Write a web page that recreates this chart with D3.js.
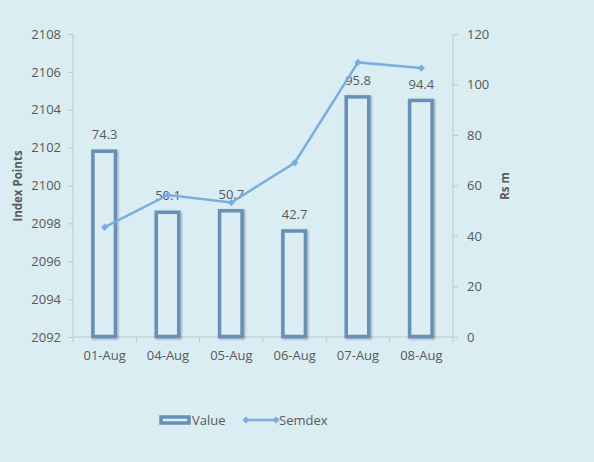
<!DOCTYPE html>
<meta charset="utf-8">
<style>
body { margin: 0; background: #daedf3; }
text { font-family: "Open Sans", sans-serif; fill: #595959; }
.axis path, .axis line { stroke: #bcc8cc; }
</style>
<svg width="594" height="462"></svg>
<script src="https://d3js.org/d3.v7.min.js"></script>
<script>
var svg = d3.select("svg"),
    width = +svg.attr("width"),
    height = +svg.attr("height");

// data
var dates = ["01-Aug", "04-Aug", "05-Aug", "06-Aug", "07-Aug", "08-Aug"];
var values = [74.3, 50.1, 50.7, 42.7, 95.8, 94.4];
var semdex = [2097.8, 2099.5, 2099.1, 2101.2, 2106.5, 2106.2];
var leftTicks = [2092, 2094, 2096, 2098, 2100, 2102, 2104, 2106, 2108];
var rightTicks = [0, 20, 40, 60, 80, 100, 120];

// plot area
var pLeft = 73, pRight = 453, pTop = 34, pBottom = 337;

svg.append("rect").attr("width", width).attr("height", height).attr("fill", "#daedf3");

var defs = svg.append("defs");
var f = defs.append("filter").attr("id", "sh").attr("x", "-30%").attr("y", "-10%").attr("width", "160%").attr("height", "120%");
f.append("feGaussianBlur").attr("in", "SourceAlpha").attr("stdDeviation", 1.2);
f.append("feOffset").attr("dx", 1).attr("dy", 1).attr("result", "b");
f.append("feComponentTransfer").append("feFuncA").attr("type", "linear").attr("slope", 0.35);
var m = f.append("feMerge");
m.append("feMergeNode");
m.append("feMergeNode").attr("in", "SourceGraphic");

var x = d3.scaleBand().domain(dates).range([pLeft, pRight]).padding(0);
var yL = d3.scaleLinear().domain([2092, 2108]).range([pBottom, pTop]);
var yR = d3.scaleLinear().domain([0, 120]).range([pBottom, pTop]);

// axes
var gl = svg.append("g").attr("class", "axis").attr("transform", "translate(" + pLeft + ",0)")
  .call(d3.axisLeft(yL).tickValues(leftTicks).tickSize(5).tickPadding(7).tickFormat(d3.format("d")));
var gr = svg.append("g").attr("class", "axis").attr("transform", "translate(" + pRight + ",0)")
  .call(d3.axisRight(yR).tickValues(rightTicks).tickSize(5).tickPadding(9));
[gl, gr].forEach(function(g) {
  g.select(".domain").attr("d", "M0," + pTop + "V" + pBottom);
  g.selectAll("text").style("font-size", "13px").attr("fill", "#595959");
});

var gx = svg.append("g").attr("class", "axis").attr("transform", "translate(0," + pBottom + ")");
gx.append("line").attr("x1", pLeft).attr("x2", pRight).attr("stroke", "#bcc8cc");
var bounds = dates.map(function(d) { return x(d); }).concat([pRight]);
gx.selectAll(".tk").data(bounds).enter().append("line")
  .attr("x1", function(d) { return d; }).attr("x2", function(d) { return d; })
  .attr("y1", 0).attr("y2", 5).attr("stroke", "#bcc8cc");
gx.selectAll(".lb").data(dates).enter().append("text")
  .attr("x", function(d) { return x(d) + x.bandwidth() / 2; })
  .attr("y", 23).attr("text-anchor", "middle").style("font-size", "13px")
  .text(function(d) { return d; });

// bars
var bw = x.bandwidth() * 0.355;
svg.append("g").selectAll("rect").data(values).enter().append("rect")
  .attr("x", function(d, i) { return x(dates[i]) + x.bandwidth() / 2 - bw / 2 - 0.5; })
  .attr("y", function(d) { return yR(d) + 1.8; })
  .attr("width", bw)
  .attr("height", function(d) { return pBottom - yR(d) - 2.3; })
  .attr("fill", "#dcedf4")
  .attr("stroke", "#6690b7")
  .attr("stroke-width", 3.5)
  .attr("filter", "url(#sh)");

svg.append("g").selectAll("text").data(values).enter().append("text")
  .attr("x", function(d, i) { return x(dates[i]) + x.bandwidth() / 2; })
  .attr("y", function(d) { return yR(d) - 10; })
  .attr("text-anchor", "middle").style("font-size", "13px")
  .text(function(d) { return d.toFixed(1); });

// semdex line
var line = d3.line()
  .x(function(d, i) { return x(dates[i]) + x.bandwidth() / 2; })
  .y(function(d) { return yL(d); });
svg.append("path").datum(semdex).attr("d", line)
  .attr("fill", "none").attr("stroke", "#7aade0").attr("stroke-width", 2.5);
var diamond = d3.symbol().type(d3.symbolSquare).size(26);
svg.append("g").selectAll("path").data(semdex).enter().append("path")
  .attr("d", diamond)
  .attr("transform", function(d, i) { return "translate(" + (x(dates[i]) + x.bandwidth() / 2) + "," + yL(d) + ") rotate(45)"; })
  .attr("fill", "#7aade0");

// axis titles
svg.append("text").attr("transform", "translate(22,186) rotate(-90)")
  .attr("text-anchor", "middle").style("font-size", "11.5px").style("font-weight", "bold")
  .text("Index Points");
svg.append("text").attr("transform", "translate(509,186) rotate(-90)")
  .attr("text-anchor", "middle").style("font-size", "11.5px").style("font-weight", "bold")
  .text("Rs m");

// legend
var lg = svg.append("g");
lg.append("rect").attr("x", 161).attr("y", 417).attr("width", 28).attr("height", 6)
  .attr("fill", "#dcedf4").attr("stroke", "#6690b7").attr("stroke-width", 3.5);
lg.append("text").attr("x", 192).attr("y", 425).style("font-size", "13px").text("Value");
lg.append("line").attr("x1", 246).attr("x2", 276).attr("y1", 420).attr("y2", 420)
  .attr("stroke", "#7aade0").attr("stroke-width", 2.5);
lg.selectAll(".m").data([246, 276]).enter().append("path")
  .attr("d", diamond)
  .attr("transform", function(d) { return "translate(" + d + ",420) rotate(45)"; })
  .attr("fill", "#7aade0");
lg.append("text").attr("x", 279).attr("y", 425).style("font-size", "13px").text("Semdex");
</script>
